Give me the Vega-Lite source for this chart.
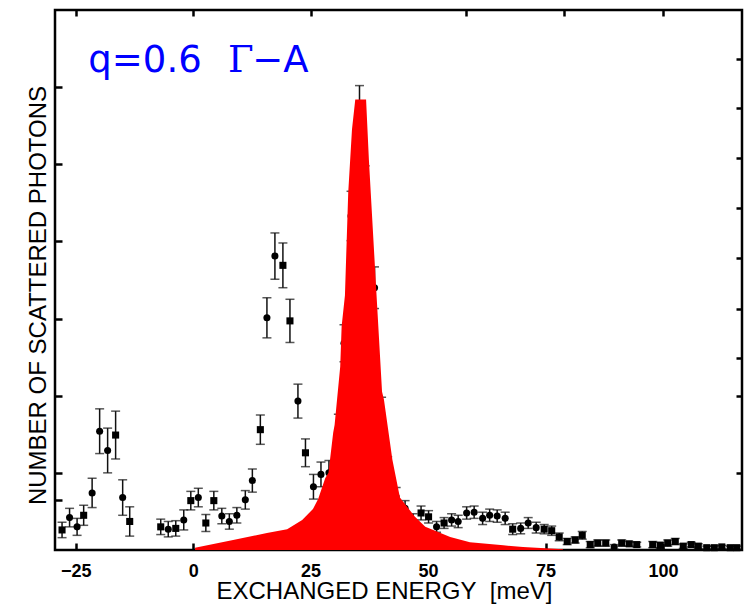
{
  "$schema": "https://vega.github.io/schema/vega-lite/v6.json",
  "width": 687,
  "height": 540,
  "autosize": "none",
  "padding": {"left": 55, "top": 10, "right": 9, "bottom": 54},
  "background": "white",
  "config": {
    "view": {"stroke": "black", "strokeWidth": 2.5},
    "axis": {"grid": false, "domain": false, "tickColor": "black", "tickWidth": 2.5, "tickSize": -7, "labelColor": "black", "titleColor": "black", "titleFont": "Liberation Sans", "titleFontWeight": "normal"}
  },
  "datasets": {
    "pts": [
      {"E": -27.9, "y": 0.26, "lo": 0.16, "hi": 0.36, "s": "b"},
      {"E": -26.3, "y": 0.42, "lo": 0.30, "hi": 0.54, "s": "a"},
      {"E": -24.7, "y": 0.30, "lo": 0.19, "hi": 0.41, "s": "a"},
      {"E": -23.3, "y": 0.45, "lo": 0.32, "hi": 0.58, "s": "b"},
      {"E": -21.5, "y": 0.74, "lo": 0.55, "hi": 0.93, "s": "a"},
      {"E": -19.9, "y": 1.54, "lo": 1.25, "hi": 1.83, "s": "a"},
      {"E": -18.2, "y": 1.29, "lo": 1.00, "hi": 1.58, "s": "a"},
      {"E": -16.5, "y": 1.49, "lo": 1.18, "hi": 1.80, "s": "b"},
      {"E": -15.0, "y": 0.68, "lo": 0.45, "hi": 0.91, "s": "a"},
      {"E": -13.5, "y": 0.37, "lo": 0.18, "hi": 0.56, "s": "b"},
      {"E": -6.9, "y": 0.30, "lo": 0.20, "hi": 0.40, "s": "b"},
      {"E": -5.3, "y": 0.27, "lo": 0.17, "hi": 0.37, "s": "a"},
      {"E": -3.7, "y": 0.28, "lo": 0.18, "hi": 0.38, "s": "b"},
      {"E": -2.0, "y": 0.39, "lo": 0.26, "hi": 0.52, "s": "a"},
      {"E": -0.5, "y": 0.64, "lo": 0.52, "hi": 0.76, "s": "b"},
      {"E": 1.1, "y": 0.68, "lo": 0.56, "hi": 0.80, "s": "a"},
      {"E": 2.7, "y": 0.35, "lo": 0.24, "hi": 0.46, "s": "b"},
      {"E": 4.4, "y": 0.64, "lo": 0.52, "hi": 0.76, "s": "b"},
      {"E": 6.1, "y": 0.44, "lo": 0.34, "hi": 0.54, "s": "a"},
      {"E": 7.7, "y": 0.37, "lo": 0.27, "hi": 0.47, "s": "a"},
      {"E": 9.3, "y": 0.45, "lo": 0.35, "hi": 0.55, "s": "a"},
      {"E": 11.1, "y": 0.65, "lo": 0.53, "hi": 0.77, "s": "a"},
      {"E": 12.6, "y": 0.90, "lo": 0.75, "hi": 1.05, "s": "a"},
      {"E": 14.3, "y": 1.56, "lo": 1.37, "hi": 1.75, "s": "b"},
      {"E": 15.7, "y": 3.01, "lo": 2.75, "hi": 3.27, "s": "a"},
      {"E": 17.4, "y": 3.81, "lo": 3.51, "hi": 4.11, "s": "a"},
      {"E": 19.1, "y": 3.69, "lo": 3.40, "hi": 3.98, "s": "b"},
      {"E": 20.6, "y": 2.97, "lo": 2.69, "hi": 3.25, "s": "b"},
      {"E": 22.3, "y": 1.93, "lo": 1.71, "hi": 2.15, "s": "a"},
      {"E": 23.9, "y": 1.26, "lo": 1.08, "hi": 1.44, "s": "b"},
      {"E": 25.6, "y": 0.82, "lo": 0.66, "hi": 0.98, "s": "a"},
      {"E": 27.2, "y": 0.98, "lo": 0.82, "hi": 1.14, "s": "a"},
      {"E": 28.9, "y": 1.00, "lo": 0.84, "hi": 1.16, "s": "a"},
      {"E": 30.9, "y": 1.56, "lo": 1.36, "hi": 1.76, "s": "a"},
      {"E": 32.1, "y": 2.68, "lo": 2.44, "hi": 2.92, "s": "a"},
      {"E": 33.6, "y": 4.33, "lo": 4.01, "hi": 4.65, "s": "a"},
      {"E": 35.4, "y": 5.65, "lo": 5.28, "hi": 6.02, "s": "a"},
      {"E": 36.6, "y": 4.65, "lo": 4.32, "hi": 4.98, "s": "a"},
      {"E": 38.6, "y": 3.40, "lo": 3.13, "hi": 3.67, "s": "a"},
      {"E": 40.1, "y": 1.78, "lo": 1.58, "hi": 1.98, "s": "a"},
      {"E": 41.4, "y": 1.06, "lo": 0.91, "hi": 1.21, "s": "a"},
      {"E": 43.2, "y": 0.69, "lo": 0.57, "hi": 0.81, "s": "a"},
      {"E": 45.1, "y": 0.54, "lo": 0.44, "hi": 0.64, "s": "a"},
      {"E": 46.8, "y": 0.38, "lo": 0.29, "hi": 0.47, "s": "a"},
      {"E": 48.5, "y": 0.48, "lo": 0.39, "hi": 0.57, "s": "b"},
      {"E": 50.1, "y": 0.43, "lo": 0.35, "hi": 0.51, "s": "b"},
      {"E": 51.8, "y": 0.30, "lo": 0.23, "hi": 0.37, "s": "a"},
      {"E": 53.4, "y": 0.35, "lo": 0.28, "hi": 0.42, "s": "b"},
      {"E": 55.0, "y": 0.39, "lo": 0.31, "hi": 0.47, "s": "a"},
      {"E": 56.4, "y": 0.37, "lo": 0.29, "hi": 0.45, "s": "a"},
      {"E": 58.2, "y": 0.48, "lo": 0.40, "hi": 0.56, "s": "a"},
      {"E": 59.8, "y": 0.49, "lo": 0.41, "hi": 0.57, "s": "a"},
      {"E": 61.6, "y": 0.41, "lo": 0.33, "hi": 0.49, "s": "a"},
      {"E": 63.1, "y": 0.45, "lo": 0.37, "hi": 0.53, "s": "a"},
      {"E": 64.7, "y": 0.44, "lo": 0.36, "hi": 0.52, "s": "a"},
      {"E": 66.4, "y": 0.41, "lo": 0.33, "hi": 0.49, "s": "a"},
      {"E": 68.0, "y": 0.27, "lo": 0.20, "hi": 0.34, "s": "b"},
      {"E": 69.7, "y": 0.28, "lo": 0.21, "hi": 0.35, "s": "a"},
      {"E": 71.3, "y": 0.35, "lo": 0.28, "hi": 0.42, "s": "a"},
      {"E": 73.0, "y": 0.29, "lo": 0.22, "hi": 0.36, "s": "a"},
      {"E": 74.7, "y": 0.27, "lo": 0.21, "hi": 0.33, "s": "b"},
      {"E": 76.3, "y": 0.25, "lo": 0.19, "hi": 0.31, "s": "b"},
      {"E": 77.9, "y": 0.17, "lo": 0.12, "hi": 0.22, "s": "b"},
      {"E": 79.6, "y": 0.11, "lo": 0.07, "hi": 0.15, "s": "b"},
      {"E": 81.3, "y": 0.13, "lo": 0.09, "hi": 0.17, "s": "b"},
      {"E": 82.8, "y": 0.19, "lo": 0.14, "hi": 0.24, "s": "b"},
      {"E": 84.5, "y": 0.07, "lo": 0.03, "hi": 0.11, "s": "b"},
      {"E": 86.1, "y": 0.09, "lo": 0.05, "hi": 0.13, "s": "b"},
      {"E": 87.8, "y": 0.09, "lo": 0.05, "hi": 0.13, "s": "b"},
      {"E": 89.6, "y": 0.04, "lo": 0.01, "hi": 0.07, "s": "a"},
      {"E": 91.2, "y": 0.09, "lo": 0.05, "hi": 0.13, "s": "b"},
      {"E": 92.8, "y": 0.08, "lo": 0.05, "hi": 0.11, "s": "b"},
      {"E": 94.4, "y": 0.07, "lo": 0.04, "hi": 0.10, "s": "b"},
      {"E": 97.8, "y": 0.07, "lo": 0.03, "hi": 0.11, "s": "b"},
      {"E": 99.4, "y": 0.06, "lo": 0.02, "hi": 0.10, "s": "b"},
      {"E": 101.0, "y": 0.09, "lo": 0.05, "hi": 0.13, "s": "b"},
      {"E": 102.6, "y": 0.11, "lo": 0.07, "hi": 0.15, "s": "b"},
      {"E": 104.3, "y": 0.05, "lo": 0.02, "hi": 0.08, "s": "b"},
      {"E": 106.0, "y": 0.07, "lo": 0.04, "hi": 0.10, "s": "b"},
      {"E": 107.5, "y": 0.05, "lo": 0.02, "hi": 0.08, "s": "b"},
      {"E": 109.3, "y": 0.03, "lo": 0.01, "hi": 0.05, "s": "b"},
      {"E": 110.9, "y": 0.03, "lo": 0.01, "hi": 0.05, "s": "b"},
      {"E": 112.5, "y": 0.04, "lo": 0.02, "hi": 0.06, "s": "b"},
      {"E": 114.3, "y": 0.03, "lo": 0.01, "hi": 0.05, "s": "b"},
      {"E": 115.7, "y": 0.03, "lo": 0.01, "hi": 0.05, "s": "b"}
    ],
    "fit": [
      {"E": 0.4, "I": 0.03},
      {"E": 8.5, "I": 0.13},
      {"E": 15.7, "I": 0.22},
      {"E": 20.0, "I": 0.27},
      {"E": 23.2, "I": 0.39},
      {"E": 25.5, "I": 0.53},
      {"E": 26.6, "I": 0.66},
      {"E": 28.1, "I": 0.93},
      {"E": 28.8, "I": 1.00},
      {"E": 29.8, "I": 1.52},
      {"E": 30.1, "I": 1.62},
      {"E": 31.3, "I": 2.38},
      {"E": 31.6, "I": 2.90},
      {"E": 32.3, "I": 3.30},
      {"E": 33.0, "I": 4.63},
      {"E": 33.8, "I": 5.45},
      {"E": 34.5, "I": 5.84},
      {"E": 36.8, "I": 5.84},
      {"E": 37.4, "I": 5.06},
      {"E": 39.0, "I": 3.33},
      {"E": 40.2, "I": 2.05},
      {"E": 40.6, "I": 1.95},
      {"E": 42.4, "I": 1.17},
      {"E": 44.0, "I": 0.68},
      {"E": 47.2, "I": 0.43},
      {"E": 49.4, "I": 0.30},
      {"E": 51.1, "I": 0.26},
      {"E": 54.7, "I": 0.17},
      {"E": 58.9, "I": 0.10},
      {"E": 66.0, "I": 0.06},
      {"E": 70.2, "I": 0.04},
      {"E": 78.7, "I": 0.01}
    ]
  },
  "resolve": {"axis": {"x": "independent", "y": "independent"}},
  "layer": [
    {
      "data": {"name": "pts"},
      "mark": {"type": "rule", "color": "#111", "strokeWidth": 1.5},
      "encoding": {
        "x": {"field": "E", "type": "quantitative", "scale": {"domain": [-29.4, 116.8], "nice": false, "zero": false},
          "axis": {"orient": "bottom", "values": [-25, 0, 25, 50, 75, 100], "format": "d", "labelFont": "Liberation Sans", "labelFontWeight": "bold", "labelFontSize": 18, "labelPadding": 19, "labelFlush": false,
            "title": "EXCHANGED ENERGY\u00a0\u00a0[meV]", "titleFontSize": 24, "titleX": 329, "titleY": 48, "titleBaseline": "alphabetic"}},
        "y": {"field": "lo", "type": "quantitative", "scale": {"domain": [0, 7], "nice": false, "zero": false},
          "axis": {"orient": "left", "values": [0.65, 1, 2, 3, 4, 5, 6], "labels": false, "title": "NUMBER OF SCATTERED PHOTONS", "titleFontSize": 24, "titleX": -10, "titleY": 285, "titleAngle": 270, "titleBaseline": "alphabetic"}},
        "y2": {"field": "hi"}
      }
    },
    {
      "data": {"name": "pts"},
      "mark": {"type": "tick", "orient": "horizontal", "color": "#111", "size": 9, "thickness": 1.5},
      "encoding": {
        "x": {"field": "E", "type": "quantitative", "axis": null},
        "y": {"field": "lo", "type": "quantitative", "axis": null}
      }
    },
    {
      "data": {"name": "pts"},
      "mark": {"type": "tick", "orient": "horizontal", "color": "#111", "size": 9, "thickness": 1.5},
      "encoding": {
        "x": {"field": "E", "type": "quantitative", "axis": null},
        "y": {"field": "hi", "type": "quantitative", "axis": null}
      }
    },
    {
      "data": {"name": "pts"},
      "mark": {"type": "point", "filled": true, "opacity": 1, "color": "black", "size": 50},
      "encoding": {
        "x": {"field": "E", "type": "quantitative", "axis": null},
        "y": {"field": "y", "type": "quantitative", "axis": null},
        "shape": {"field": "s", "type": "nominal", "scale": {"domain": ["a", "b"], "range": ["circle", "square"]}, "legend": null}
      }
    },
    {
      "data": {"name": "fit"},
      "mark": {"type": "area", "color": "#ff0000", "opacity": 1, "interpolate": "linear"},
      "encoding": {
        "x": {"field": "E", "type": "quantitative",
          "axis": {"orient": "top", "values": [-25, 0, 25, 58, 79, 100], "labels": false, "title": null, "tickSize": -6}},
        "y": {"field": "I", "type": "quantitative",
          "axis": {"orient": "right", "values": [1.0, 1.99, 2.49, 3.12, 3.79, 4.43, 5.08, 5.73, 6.36], "labels": false, "title": null, "tickSize": -6}}
      }
    },
    {
      "data": {"values": [{}]},
      "mark": {"type": "text", "text": "q=0.6", "font": "DejaVu Sans", "fontSize": 37, "color": "#0000ff", "align": "left", "baseline": "alphabetic"},
      "encoding": {"x": {"datum": -22.3, "type": "quantitative", "axis": null}, "y": {"datum": 6.2, "type": "quantitative", "axis": null}}
    },
    {
      "data": {"values": [{}]},
      "mark": {"type": "text", "text": "Γ", "font": "DejaVu Serif", "fontSize": 37, "color": "#0000ff", "align": "left", "baseline": "alphabetic"},
      "encoding": {"x": {"datum": 7.4, "type": "quantitative", "axis": null}, "y": {"datum": 6.2, "type": "quantitative", "axis": null}}
    },
    {
      "data": {"values": [{}]},
      "mark": {"type": "text", "text": "−A", "font": "DejaVu Sans", "fontSize": 37, "color": "#0000ff", "align": "left", "baseline": "alphabetic"},
      "encoding": {"x": {"datum": 12.6, "type": "quantitative", "axis": null}, "y": {"datum": 6.2, "type": "quantitative", "axis": null}}
    }
  ]
}
